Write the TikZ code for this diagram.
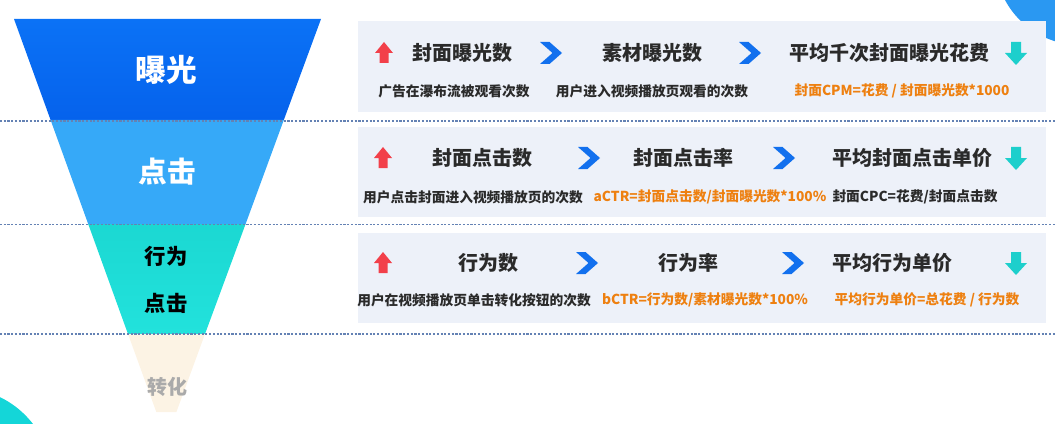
\documentclass[tikz,border=0pt]{standalone}
\usepackage{fontspec}
\newfontfamily\cjk{Noto Sans CJK SC}
\definecolor{fa}{HTML}{0B72F6}
\definecolor{fb}{HTML}{0562EC}
\definecolor{fc}{HTML}{36A9F8}
\definecolor{fd}{HTML}{1BD8D2}
\definecolor{fe}{HTML}{22E2DC}
\definecolor{ff}{HTML}{FCF3E4}
\definecolor{titc}{HTML}{2A2A2A}
\definecolor{orc}{HTML}{EE8010}
\definecolor{redc}{HTML}{F2404A}
\definecolor{bluec}{HTML}{1270EE}
\definecolor{tealc}{HTML}{1DCFCC}
\definecolor{panelc}{HTML}{EDF1F9}
\definecolor{sepc}{HTML}{6482B4}
\definecolor{greyc}{HTML}{AAAAAA}
\definecolor{cornerb}{HTML}{2A98F2}
\definecolor{cornert}{HTML}{14D6D8}
\tikzset{
  ttl/.style={font=\cjk\bfseries\fontsize{15}{18}\selectfont, text=titc, inner sep=0pt},
  subt/.style={font=\cjk\bfseries\fontsize{10.3}{12}\selectfont, text=titc, inner sep=0pt},
  subo/.style={subt, text=orc},
  panel/.style={fill=panelc, draw=none},
  sepline/.style={draw=sepc, line width=0.8pt, dash pattern=on 1.6pt off 1.2pt},
  uparr/.pic={\fill[redc] (-9,0)--(0,-11)--(9,0)--(4.5,0)--(4.5,10)--(-4.5,10)--(-4.5,0)--cycle;},
  downarr/.pic={\fill[tealc] (-11,0)--(0,12)--(11,0)--(5,0)--(5,-11)--(-5,-11)--(-5,0)--cycle;},
  chev/.pic={\fill[bluec] (-11,-11)--(-1.5,-11)--(11,0)--(-1.5,11)--(-11,11)--(1.5,0)--cycle;}
}
\begin{document}
\begin{tikzpicture}[x=0.75pt,y=-0.75pt]
\useasboundingbox (0,0) rectangle (1055,424);
\clip (0,0) rectangle (1055,424);
% corner decorations
\fill[cornerb] (1080,-40) circle (85);
\fill[cornert] (-40,480) circle (92);
% funnel
\shade[top color=fa, bottom color=fb] (14,19) -- (321,19) -- (283.8,120) -- (50.6,120) -- cycle;
\fill[fc] (50.6,120) -- (283.8,120) -- (245.6,224) -- (88.2,224) -- cycle;
\shade[top color=fd, bottom color=fe] (88.2,224) -- (245.6,224) -- (205,334) -- (128,334) -- cycle;
\fill[ff] (128,334) -- (205,334) -- (176.4,412) -- (156.3,412) -- cycle;
\node[font=\cjk\bfseries\fontsize{23}{26}\selectfont, text=white, inner sep=0pt] (l1) at (166,70) {曝光};
\node[font=\cjk\bfseries\fontsize{21.5}{24}\selectfont, text=white, inner sep=0pt] (l2) at (167,172) {点击};
\node[font=\cjk\bfseries\fontsize{16}{18}\selectfont, text=black, inner sep=0pt] (l3) at (166,256) {行为};
\node[font=\cjk\bfseries\fontsize{16}{18}\selectfont, text=black, inner sep=0pt] (l4) at (166,303) {点击};
\node[font=\cjk\bfseries\fontsize{15}{18}\selectfont, text=greyc, inner sep=0pt] (l5) at (167,387) {转化};
% panels
\fill[panel] (358,21) rectangle (1046,112);
\fill[panel] (358,127) rectangle (1046,217);
\fill[panel] (358,233) rectangle (1046,323);
% separators
\draw[sepline] (0,121) -- (1055,121);
\draw[sepline] (0,224.5) -- (1055,224.5);
\draw[sepline] (0,334) -- (1055,334);
% row 1
\pic at (384,53) {uparr};
\node[ttl] (a1) at (462,53) {封面曝光数};
\pic at (551,53) {chev};
\node[ttl] (a2) at (652,53) {素材曝光数};
\pic at (750,53) {chev};
\node[ttl] (a3) at (889,53) {平均千次封面曝光花费};
\pic at (1016,53) {downarr};
\node[subt] (s1) at (454,91) {广告在瀑布流被观看次数};
\node[subt] (s2) at (652,91) {用户进入视频播放页观看的次数};
\node[subo] (s3) at (902,91) {封面CPM=花费 / 封面曝光数*1000};
% row 2
\pic at (383,158) {uparr};
\node[ttl] (b1) at (482,158) {封面点击数};
\pic at (589,158) {chev};
\node[ttl] (b2) at (683,158) {封面点击率};
\pic at (784,158) {chev};
\node[ttl] (b3) at (912,158) {平均封面点击单价};
\pic at (1016,158) {downarr};
\node[subt] (t1) at (473,197) {用户点击封面进入视频播放页的次数};
\node[subo] (t2) at (710,197) {aCTR=封面点击数/封面曝光数*100\%};
\node[subt] (t3) at (915,197) {封面CPC=花费/封面点击数};
% row 3
\pic at (383,263) {uparr};
\node[ttl] (c1) at (488,263) {行为数};
\pic at (587,263) {chev};
\node[ttl] (c2) at (688,263) {行为率};
\pic at (793,263) {chev};
\node[ttl] (c3) at (892,263) {平均行为单价};
\pic at (1016,263) {downarr};
\node[subt] (u1) at (474,300) {用户在视频播放页单击转化按钮的次数};
\node[subo] (u2) at (705,300) {bCTR=行为数/素材曝光数*100\%};
\node[subo] (u3) at (927,300) {平均行为单价=总花费 / 行为数};
\end{tikzpicture}
\end{document}
